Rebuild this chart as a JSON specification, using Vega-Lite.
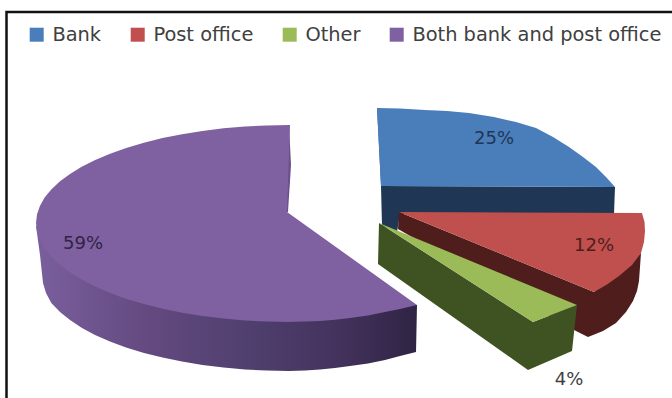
{
  "$schema": "https://vega.github.io/schema/vega-lite/v6.json",
  "autosize": {"type": "none"},
  "padding": 0,
  "width": 672,
  "height": 398,
  "background": "#ffffff",
  "view": {"stroke": null},
  "datasets": {
    "frame": [
      {"seq": 1, "px": 6.5, "py": 398},
      {"seq": 2, "px": 6.5, "py": 12},
      {"seq": 3, "px": 672, "py": 12}
    ],
    "purpleWall": [
      {"seq": 1, "px": 36, "py": 226},
      {"seq": 2, "px": 289, "py": 300},
      {"seq": 3, "px": 417, "py": 305},
      {"seq": 4, "px": 416, "py": 352},
      {"seq": 5, "px": 400, "py": 356},
      {"seq": 6, "px": 385, "py": 360},
      {"seq": 7, "px": 368, "py": 363.5},
      {"seq": 8, "px": 350, "py": 366},
      {"seq": 9, "px": 335, "py": 368},
      {"seq": 10, "px": 320, "py": 369.5},
      {"seq": 11, "px": 305, "py": 370.5},
      {"seq": 12, "px": 289, "py": 371},
      {"seq": 13, "px": 267, "py": 370.5},
      {"seq": 14, "px": 245, "py": 369.5},
      {"seq": 15, "px": 223.5, "py": 367.5},
      {"seq": 16, "px": 202.5, "py": 365},
      {"seq": 17, "px": 182, "py": 361.5},
      {"seq": 18, "px": 162.5, "py": 357.5},
      {"seq": 19, "px": 144, "py": 353},
      {"seq": 20, "px": 126, "py": 347.5},
      {"seq": 21, "px": 110, "py": 341.5},
      {"seq": 22, "px": 95, "py": 335},
      {"seq": 23, "px": 82, "py": 328},
      {"seq": 24, "px": 70, "py": 320},
      {"seq": 25, "px": 60, "py": 312},
      {"seq": 26, "px": 51.3, "py": 303},
      {"seq": 27, "px": 46, "py": 293},
      {"seq": 28, "px": 43, "py": 283},
      {"seq": 29, "px": 40, "py": 255}
    ],
    "walls": [
      {"part": "Purple cut", "seq": 1, "px": 289, "py": 125},
      {"part": "Purple cut", "seq": 2, "px": 291, "py": 165},
      {"part": "Purple cut", "seq": 3, "px": 288, "py": 212},
      {"part": "Purple cut", "seq": 4, "px": 284, "py": 212},
      {"part": "Blue cut", "seq": 1, "px": 377, "py": 108},
      {"part": "Blue cut", "seq": 2, "px": 381, "py": 186},
      {"part": "Blue cut", "seq": 3, "px": 383, "py": 186},
      {"part": "Blue cut", "seq": 4, "px": 380, "py": 108},
      {"part": "Blue rim", "seq": 1, "px": 381, "py": 186},
      {"part": "Blue rim", "seq": 2, "px": 615, "py": 187},
      {"part": "Blue rim", "seq": 3, "px": 614, "py": 214},
      {"part": "Blue rim", "seq": 4, "px": 400, "py": 214},
      {"part": "Blue rim", "seq": 5, "px": 397, "py": 232},
      {"part": "Blue rim", "seq": 6, "px": 382, "py": 226},
      {"part": "Red rim", "seq": 1, "px": 399, "py": 212},
      {"part": "Red rim", "seq": 2, "px": 398, "py": 229},
      {"part": "Red rim", "seq": 3, "px": 576, "py": 331},
      {"part": "Red rim", "seq": 4, "px": 588, "py": 337},
      {"part": "Red rim", "seq": 5, "px": 603, "py": 331},
      {"part": "Red rim", "seq": 6, "px": 616, "py": 323},
      {"part": "Red rim", "seq": 7, "px": 626, "py": 312},
      {"part": "Red rim", "seq": 8, "px": 633, "py": 301},
      {"part": "Red rim", "seq": 9, "px": 637, "py": 291},
      {"part": "Red rim", "seq": 10, "px": 639, "py": 281},
      {"part": "Red rim", "seq": 11, "px": 641, "py": 253},
      {"part": "Red rim", "seq": 12, "px": 594, "py": 292},
      {"part": "Green rim", "seq": 1, "px": 379, "py": 223},
      {"part": "Green rim", "seq": 2, "px": 378, "py": 264},
      {"part": "Green rim", "seq": 3, "px": 528, "py": 370},
      {"part": "Green rim", "seq": 4, "px": 572, "py": 351},
      {"part": "Green rim", "seq": 5, "px": 577, "py": 305},
      {"part": "Green rim", "seq": 6, "px": 533, "py": 322}
    ],
    "faces": [
      {"slice": "Both bank and post office", "seq": 1, "px": 290, "py": 125},
      {"slice": "Both bank and post office", "seq": 2, "px": 266.9, "py": 125.4},
      {"slice": "Both bank and post office", "seq": 3, "px": 245, "py": 126.5},
      {"slice": "Both bank and post office", "seq": 4, "px": 223.5, "py": 128.3},
      {"slice": "Both bank and post office", "seq": 5, "px": 202.5, "py": 131},
      {"slice": "Both bank and post office", "seq": 6, "px": 182.1, "py": 134.2},
      {"slice": "Both bank and post office", "seq": 7, "px": 162.5, "py": 138},
      {"slice": "Both bank and post office", "seq": 8, "px": 143.9, "py": 142.7},
      {"slice": "Both bank and post office", "seq": 9, "px": 126.3, "py": 148},
      {"slice": "Both bank and post office", "seq": 10, "px": 110.1, "py": 153.7},
      {"slice": "Both bank and post office", "seq": 11, "px": 95.2, "py": 160},
      {"slice": "Both bank and post office", "seq": 12, "px": 81.7, "py": 166.8},
      {"slice": "Both bank and post office", "seq": 13, "px": 70, "py": 174},
      {"slice": "Both bank and post office", "seq": 14, "px": 59.7, "py": 181.6},
      {"slice": "Both bank and post office", "seq": 15, "px": 51.3, "py": 189.5},
      {"slice": "Both bank and post office", "seq": 16, "px": 44.6, "py": 197.6},
      {"slice": "Both bank and post office", "seq": 17, "px": 39.9, "py": 206},
      {"slice": "Both bank and post office", "seq": 18, "px": 37, "py": 214.5},
      {"slice": "Both bank and post office", "seq": 19, "px": 36, "py": 223},
      {"slice": "Both bank and post office", "seq": 20, "px": 37, "py": 231.6},
      {"slice": "Both bank and post office", "seq": 21, "px": 39.9, "py": 240},
      {"slice": "Both bank and post office", "seq": 22, "px": 44.6, "py": 248.6},
      {"slice": "Both bank and post office", "seq": 23, "px": 51.3, "py": 257},
      {"slice": "Both bank and post office", "seq": 24, "px": 59.7, "py": 264.8},
      {"slice": "Both bank and post office", "seq": 25, "px": 70, "py": 272.5},
      {"slice": "Both bank and post office", "seq": 26, "px": 81.7, "py": 279.8},
      {"slice": "Both bank and post office", "seq": 27, "px": 95.2, "py": 286.6},
      {"slice": "Both bank and post office", "seq": 28, "px": 110.1, "py": 293},
      {"slice": "Both bank and post office", "seq": 29, "px": 126.3, "py": 299},
      {"slice": "Both bank and post office", "seq": 30, "px": 143.9, "py": 304.1},
      {"slice": "Both bank and post office", "seq": 31, "px": 162.5, "py": 308.7},
      {"slice": "Both bank and post office", "seq": 32, "px": 182.1, "py": 312.7},
      {"slice": "Both bank and post office", "seq": 33, "px": 202.5, "py": 316},
      {"slice": "Both bank and post office", "seq": 34, "px": 223.5, "py": 318.6},
      {"slice": "Both bank and post office", "seq": 35, "px": 245, "py": 320.5},
      {"slice": "Both bank and post office", "seq": 36, "px": 266.9, "py": 321.6},
      {"slice": "Both bank and post office", "seq": 37, "px": 289, "py": 322},
      {"slice": "Both bank and post office", "seq": 38, "px": 305, "py": 321.6},
      {"slice": "Both bank and post office", "seq": 39, "px": 320, "py": 321},
      {"slice": "Both bank and post office", "seq": 40, "px": 335, "py": 319.8},
      {"slice": "Both bank and post office", "seq": 41, "px": 350, "py": 318},
      {"slice": "Both bank and post office", "seq": 42, "px": 368, "py": 315.5},
      {"slice": "Both bank and post office", "seq": 43, "px": 385, "py": 312},
      {"slice": "Both bank and post office", "seq": 44, "px": 400, "py": 309},
      {"slice": "Both bank and post office", "seq": 45, "px": 417, "py": 305},
      {"slice": "Both bank and post office", "seq": 46, "px": 287, "py": 212},
      {"slice": "Bank", "seq": 1, "px": 377, "py": 108},
      {"slice": "Bank", "seq": 2, "px": 400, "py": 108.5},
      {"slice": "Bank", "seq": 3, "px": 425, "py": 110},
      {"slice": "Bank", "seq": 4, "px": 447, "py": 111},
      {"slice": "Bank", "seq": 5, "px": 469, "py": 113},
      {"slice": "Bank", "seq": 6, "px": 494, "py": 117},
      {"slice": "Bank", "seq": 7, "px": 516, "py": 122},
      {"slice": "Bank", "seq": 8, "px": 536, "py": 128},
      {"slice": "Bank", "seq": 9, "px": 553, "py": 137},
      {"slice": "Bank", "seq": 10, "px": 569, "py": 147},
      {"slice": "Bank", "seq": 11, "px": 583, "py": 157},
      {"slice": "Bank", "seq": 12, "px": 596, "py": 167},
      {"slice": "Bank", "seq": 13, "px": 606, "py": 177},
      {"slice": "Bank", "seq": 14, "px": 615, "py": 187},
      {"slice": "Bank", "seq": 15, "px": 381, "py": 186},
      {"slice": "Post office", "seq": 1, "px": 399, "py": 212},
      {"slice": "Post office", "seq": 2, "px": 642, "py": 213},
      {"slice": "Post office", "seq": 3, "px": 644.5, "py": 222},
      {"slice": "Post office", "seq": 4, "px": 645, "py": 231},
      {"slice": "Post office", "seq": 5, "px": 644, "py": 242},
      {"slice": "Post office", "seq": 6, "px": 641, "py": 253},
      {"slice": "Post office", "seq": 7, "px": 632, "py": 265},
      {"slice": "Post office", "seq": 8, "px": 619, "py": 276},
      {"slice": "Post office", "seq": 9, "px": 607, "py": 284.5},
      {"slice": "Post office", "seq": 10, "px": 594, "py": 292},
      {"slice": "Other", "seq": 1, "px": 379, "py": 223},
      {"slice": "Other", "seq": 2, "px": 577, "py": 305},
      {"slice": "Other", "seq": 3, "px": 533, "py": 322}
    ],
    "labels": [
      {"slice": "Bank", "share": "25%", "px": 494, "py": 139},
      {"slice": "Post office", "share": "12%", "px": 594, "py": 246},
      {"slice": "Other", "share": "4%", "px": 569, "py": 380},
      {"slice": "Both bank and post office", "share": "59%", "px": 83, "py": 244}
    ]
  },
  "encoding": {
    "x": {"field": "px", "type": "quantitative", "axis": null, "scale": {"domain": [0, 672], "nice": false, "zero": false}},
    "y": {"field": "py", "type": "quantitative", "axis": null, "scale": {"domain": [398, 0], "nice": false, "zero": false}}
  },
  "layer": [
    {
      "data": {"name": "frame"},
      "mark": {"type": "line", "stroke": "#111111", "strokeWidth": 2.5},
      "encoding": {"order": {"field": "seq", "type": "quantitative"}}
    },
    {
      "data": {"name": "purpleWall"},
      "mark": {
        "type": "line",
        "interpolate": "linear-closed",
        "strokeWidth": 0,
        "fill": {
          "gradient": "linear",
          "x1": 0, "y1": 0, "x2": 1, "y2": 0,
          "stops": [
            {"offset": 0, "color": "#7a5f9e"},
            {"offset": 0.3, "color": "#63497f"},
            {"offset": 0.55, "color": "#50406f"},
            {"offset": 0.8, "color": "#43325c"},
            {"offset": 1, "color": "#2f2444"}
          ]
        }
      },
      "encoding": {"order": {"field": "seq", "type": "quantitative"}}
    },
    {
      "data": {"name": "walls"},
      "mark": {"type": "line", "interpolate": "linear-closed", "strokeWidth": 0},
      "encoding": {
        "order": {"field": "seq", "type": "quantitative"},
        "fill": {
          "field": "part",
          "type": "nominal",
          "legend": null,
          "scale": {
            "domain": ["Purple cut", "Blue cut", "Blue rim", "Red rim", "Green rim"],
            "range": ["#6a4f8c", "#2e5a88", "#1f3655", "#4f1d1c", "#3f5222"]
          }
        }
      }
    },
    {
      "data": {"name": "faces"},
      "mark": {"type": "line", "interpolate": "linear-closed", "strokeWidth": 0},
      "encoding": {
        "order": {"field": "seq", "type": "quantitative"},
        "fill": {
          "field": "slice",
          "type": "nominal",
          "sort": null,
          "scale": {
            "domain": ["Bank", "Post office", "Other", "Both bank and post office"],
            "range": ["#4a7ebb", "#c0504d", "#9bbb59", "#7f60a0"]
          },
          "legend": {
            "title": null,
            "orient": "none",
            "legendX": 27,
            "legendY": 25,
            "direction": "horizontal",
            "columns": 4,
            "gridAlign": "none",
            "columnPadding": 26,
            "symbolType": "square",
            "symbolSize": 196,
            "symbolStrokeWidth": 0,
            "labelFont": "DejaVu Sans",
            "labelFontSize": 19.4,
            "labelLimit": 0,
            "labelColor": "#404040",
            "labelOffset": 6
          }
        }
      }
    },
    {
      "data": {"name": "labels"},
      "mark": {"type": "text", "font": "DejaVu Sans", "fontSize": 18, "align": "center", "baseline": "middle"},
      "encoding": {
        "text": {"field": "share", "type": "nominal"},
        "fill": {
          "field": "slice",
          "type": "nominal",
          "legend": null,
          "scale": {
            "domain": ["Bank", "Post office", "Other", "Both bank and post office"],
            "range": ["#1f3655", "#4f1d1c", "#404040", "#2f2444"]
          }
        }
      }
    }
  ],
  "resolve": {"scale": {"fill": "independent"}}
}
